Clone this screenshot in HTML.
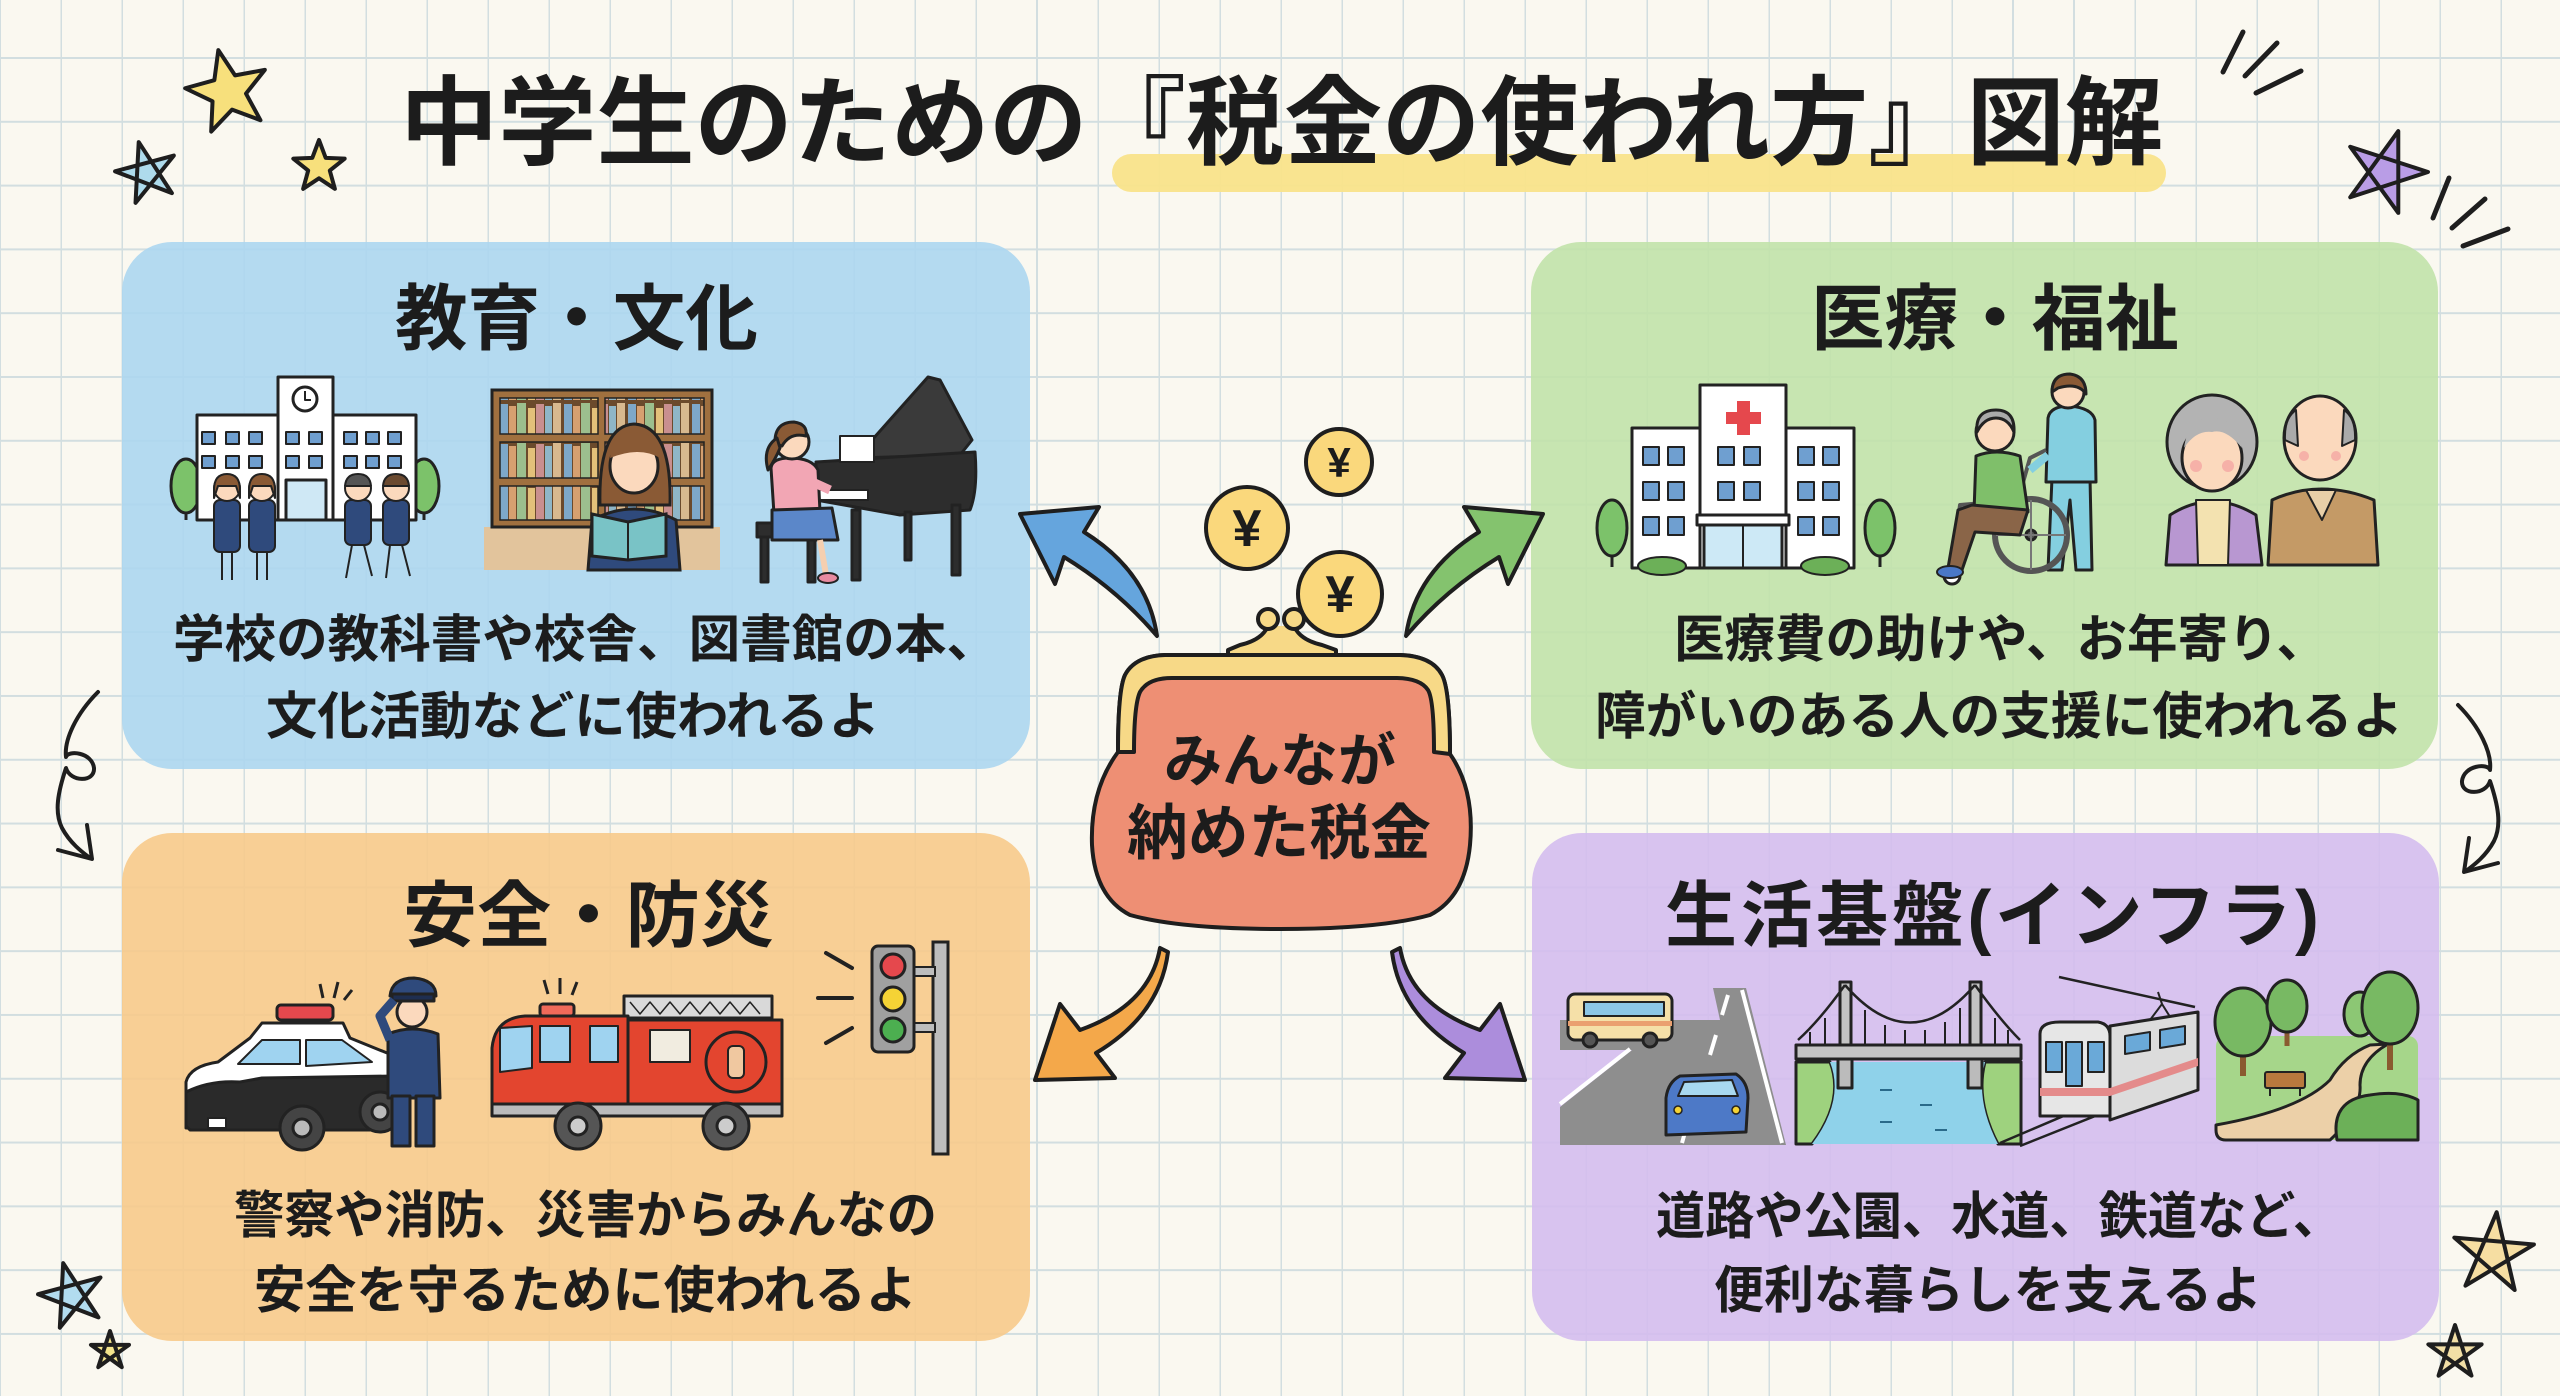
<!DOCTYPE html>
<html lang="ja"><head><meta charset="utf-8">
<style>
html,body{margin:0;padding:0;}
body{width:2560px;height:1396px;overflow:hidden;background-color:#faf8f0;
background-image:linear-gradient(to right,#d2dee0 0,#d2dee0 2px,transparent 2px),linear-gradient(to bottom,#d2dee0 0,#d2dee0 2px,transparent 2px);
background-size:61px 63.8px;background-position:-1px 57px;}
svg{position:absolute;left:0;top:0;}
text{font-family:"Liberation Sans","Noto Sans CJK JP",sans-serif;font-weight:700;fill:#1c1c1c;}
</style></head><body>
<svg width="2560" height="1396" viewBox="0 0 2560 1396" xmlns="http://www.w3.org/2000/svg">
<defs>
<pattern id="books" patternUnits="userSpaceOnUse" x="498" y="0" width="64" height="40">
<rect x="0" y="0" width="64" height="40" fill="#6b4a2c"/>
<rect x="2" y="4" width="8" height="36" fill="#7ea8c9"/>
<rect x="11" y="6" width="7" height="34" fill="#d6a070"/>
<rect x="19" y="3" width="9" height="37" fill="#9cbf8e"/>
<rect x="30" y="8" width="7" height="32" fill="#e3c07a"/>
<rect x="38" y="4" width="8" height="36" fill="#c98f8f"/>
<rect x="47" y="6" width="7" height="34" fill="#8fb6c7"/>
<rect x="55" y="3" width="8" height="37" fill="#d8b98f"/>
</pattern>
</defs>

<!-- boxes -->
<rect x="122" y="242" width="908" height="527" rx="50" fill="rgba(172,214,239,0.9)"/>
<rect x="1531" y="242" width="907" height="527" rx="50" fill="rgba(193,226,170,0.9)"/>
<rect x="122" y="833" width="908" height="508" rx="50" fill="rgba(247,202,139,0.9)"/>
<rect x="1532" y="833" width="907" height="508" rx="50" fill="rgba(212,189,238,0.9)"/>

<!-- title -->
<rect x="1112" y="154" width="1054" height="38" rx="19" fill="#f9e38a" opacity="0.95"/>
<text x="400" y="157" font-size="97" textLength="1763" lengthAdjust="spacingAndGlyphs">中学生のための『税金の使われ方』図解</text>

<!-- headings -->
<text x="395" y="344" font-size="72" textLength="363" lengthAdjust="spacingAndGlyphs">教育・文化</text>
<text x="1811" y="344" font-size="72" textLength="368" lengthAdjust="spacingAndGlyphs">医療・福祉</text>
<text x="403" y="941" font-size="72" textLength="371" lengthAdjust="spacingAndGlyphs">安全・防災</text>
<text x="1665" y="941" font-size="72" textLength="654" lengthAdjust="spacing">生活基盤(インフラ)</text>

<!-- descriptions -->
<text x="173" y="657" font-size="51" textLength="825" lengthAdjust="spacingAndGlyphs">学校の教科書や校舎、図書館の本、</text>
<text x="266" y="734" font-size="51" textLength="614" lengthAdjust="spacingAndGlyphs">文化活動などに使われるよ</text>
<text x="1674" y="657" font-size="51" textLength="653" lengthAdjust="spacingAndGlyphs">医療費の助けや、お年寄り、</text>
<text x="1595" y="734" font-size="51" textLength="808" lengthAdjust="spacingAndGlyphs">障がいのある人の支援に使われるよ</text>
<text x="234" y="1233" font-size="51" textLength="703" lengthAdjust="spacingAndGlyphs">警察や消防、災害からみんなの</text>
<text x="254" y="1308" font-size="51" textLength="663" lengthAdjust="spacingAndGlyphs">安全を守るために使われるよ</text>
<text x="1656" y="1234" font-size="51" textLength="686" lengthAdjust="spacingAndGlyphs">道路や公園、水道、鉄道など、</text>
<text x="1714" y="1308" font-size="51" textLength="548" lengthAdjust="spacingAndGlyphs">便利な暮らしを支えるよ</text>

<!-- ===== BLUE: school ===== -->
<g stroke="#222" stroke-width="3" stroke-linejoin="round">
<line x1="186" y1="495" x2="186" y2="520"/>
<ellipse cx="186" cy="486" rx="15" ry="27" fill="#7cc26a"/>
<line x1="424" y1="495" x2="424" y2="520"/>
<ellipse cx="424" cy="486" rx="15" ry="27" fill="#7cc26a"/>
<rect x="197" y="415" width="219" height="105" fill="#fff"/>
<rect x="278" y="377" width="55" height="143" fill="#fff"/>
<circle cx="305" cy="399" r="12" fill="#fff"/>
<path d="M305 391 V400 H311" fill="none" stroke-width="2"/>
<rect x="286" y="480" width="40" height="40" fill="#cfe8f5"/>
<g fill="#6f9fd0" stroke-width="2">
<rect x="202" y="432" width="13" height="12"/><rect x="226" y="432" width="13" height="12"/><rect x="249" y="432" width="13" height="12"/>
<rect x="286" y="432" width="13" height="12"/><rect x="309" y="432" width="13" height="12"/>
<rect x="344" y="432" width="13" height="12"/><rect x="366" y="432" width="13" height="12"/><rect x="388" y="432" width="13" height="12"/>
<rect x="202" y="456" width="13" height="12"/><rect x="226" y="456" width="13" height="12"/><rect x="249" y="456" width="13" height="12"/>
<rect x="286" y="456" width="13" height="12"/><rect x="309" y="456" width="13" height="12"/>
<rect x="344" y="456" width="13" height="12"/><rect x="366" y="456" width="13" height="12"/><rect x="388" y="456" width="13" height="12"/>
</g>
<!-- kids -->
<g stroke-width="2">
<rect x="214" y="500" width="26" height="52" rx="6" fill="#2f4a7c"/><circle cx="227" cy="488" r="13" fill="#fbd9bd"/><path d="M214 490 Q214 474 227 474 Q240 474 240 490 L240 498 L236 486 L218 486 L214 498 Z" fill="#8a5a35"/>
<line x1="222" y1="552" x2="222" y2="580"/><line x1="232" y1="552" x2="232" y2="580"/>
<rect x="249" y="500" width="26" height="52" rx="6" fill="#2f4a7c"/><circle cx="262" cy="488" r="13" fill="#fbd9bd"/><path d="M249 490 Q249 474 262 474 Q275 474 275 490 L275 498 L271 486 L253 486 L249 498 Z" fill="#8a5a35"/>
<line x1="257" y1="552" x2="257" y2="580"/><line x1="267" y1="552" x2="267" y2="580"/>
<rect x="345" y="500" width="26" height="45" rx="6" fill="#2f4a7c"/><circle cx="358" cy="488" r="13" fill="#fbd9bd"/><path d="M345 486 Q346 474 358 474 Q370 474 371 486 Z" fill="#555"/>
<line x1="352" y1="545" x2="346" y2="578"/><line x1="364" y1="545" x2="372" y2="576"/>
<rect x="383" y="500" width="26" height="45" rx="6" fill="#2f4a7c"/><circle cx="396" cy="488" r="13" fill="#fbd9bd"/><path d="M383 486 Q384 474 396 474 Q408 474 409 486 Z" fill="#6b4a30"/>
<line x1="390" y1="545" x2="386" y2="578"/><line x1="402" y1="545" x2="410" y2="576"/>
</g>
</g>

<!-- bookshelf -->
<rect x="484" y="527" width="236" height="43" fill="#e2c49c"/>
<g stroke="#222" stroke-width="3">
<rect x="492" y="390" width="220" height="137" fill="#a0703f"/>
<rect x="500" y="398" width="98" height="36" fill="url(#books)" stroke-width="1.5"/>
<rect x="605" y="398" width="99" height="36" fill="url(#books)" stroke-width="1.5"/>
<rect x="500" y="442" width="98" height="36" fill="url(#books)" stroke-width="1.5"/>
<rect x="605" y="442" width="99" height="36" fill="url(#books)" stroke-width="1.5"/>
<rect x="500" y="486" width="98" height="34" fill="url(#books)" stroke-width="1.5"/>
<rect x="605" y="486" width="99" height="34" fill="url(#books)" stroke-width="1.5"/>
<path d="M588 570 L592 520 Q634 498 676 520 L680 570 Z" fill="#2f4a7c"/>
<path d="M600 505 Q598 426 634 424 Q672 426 670 505 Z" fill="#8a5a35"/>
<ellipse cx="634" cy="466" rx="24" ry="27" fill="#fbd9bd"/>
<path d="M610 458 Q612 432 634 432 Q658 432 660 458 Q640 446 610 458 Z" fill="#8a5a35" stroke="none"/>
<path d="M592 514 L628 522 L666 514 L666 556 L628 560 L592 556 Z" fill="#79c3c6"/>
<line x1="628" y1="522" x2="628" y2="560" stroke-width="2"/>
</g>

<!-- piano -->
<g stroke="#222" stroke-width="3" stroke-linejoin="round">
<path d="M856 458 L928 377 L940 380 L972 440 L960 455 Z" fill="#3a3a3a"/>
<path d="M816 462 L975 452 Q978 490 970 510 L900 515 L816 500 Z" fill="#2d2d2d"/>
<rect x="840" y="436" width="34" height="26" fill="#fff" stroke-width="2"/>
<rect x="816" y="490" width="52" height="10" fill="#fff" stroke-width="2"/>
<rect x="852" y="510" width="8" height="70" fill="#2d2d2d"/>
<rect x="952" y="505" width="8" height="70" fill="#2d2d2d"/>
<rect x="905" y="512" width="6" height="48" fill="#2d2d2d"/>
<rect x="757" y="523" width="62" height="14" fill="#2d2d2d"/>
<rect x="761" y="537" width="7" height="45" fill="#2d2d2d"/>
<rect x="808" y="537" width="7" height="45" fill="#2d2d2d"/>
<path d="M771 468 Q772 458 790 458 Q812 458 818 470 L820 512 L774 514 Z" fill="#f2a6b4"/>
<path d="M772 510 L832 508 L838 540 L772 540 Z" fill="#5b87c9"/>
<line x1="820" y1="540" x2="826" y2="575" stroke="#f5cfb0" stroke-width="6"/>
<ellipse cx="828" cy="578" rx="10" ry="5" fill="#e88aa0" stroke-width="2"/>
<circle cx="792" cy="442" r="17" fill="#fbd9bd"/>
<path d="M775 444 Q774 422 794 422 Q808 424 806 436 Q790 432 782 446 Z" fill="#8a5a35"/>
<path d="M777 438 Q762 448 768 470 Q776 458 780 448 Z" fill="#8a5a35"/>
<line x1="808" y1="480" x2="830" y2="490" stroke="#f2a6b4" stroke-width="9"/>
</g>

<!-- ===== GREEN: hospital ===== -->
<g stroke="#222" stroke-width="3" stroke-linejoin="round">
<line x1="1612" y1="535" x2="1612" y2="567"/>
<ellipse cx="1612" cy="528" rx="15" ry="28" fill="#7cc26a"/>
<line x1="1880" y1="535" x2="1880" y2="567"/>
<ellipse cx="1880" cy="528" rx="15" ry="28" fill="#7cc26a"/>
<rect x="1632" y="428" width="222" height="140" fill="#fff"/>
<rect x="1700" y="385" width="86" height="183" fill="#fff"/>
<rect x="1704" y="524" width="78" height="44" fill="#cde9f6"/>
<rect x="1697" y="515" width="92" height="10" fill="#fff"/>
<line x1="1743" y1="525" x2="1743" y2="568" stroke-width="2"/>
<g fill="#6f9fd0" stroke-width="2">
<rect x="1643" y="447" width="16" height="18"/><rect x="1668" y="447" width="16" height="18"/>
<rect x="1718" y="447" width="16" height="18"/><rect x="1744" y="447" width="16" height="18"/>
<rect x="1798" y="447" width="16" height="18"/><rect x="1823" y="447" width="16" height="18"/>
<rect x="1643" y="482" width="16" height="18"/><rect x="1668" y="482" width="16" height="18"/>
<rect x="1718" y="482" width="16" height="18"/><rect x="1744" y="482" width="16" height="18"/>
<rect x="1798" y="482" width="16" height="18"/><rect x="1823" y="482" width="16" height="18"/>
<rect x="1643" y="517" width="16" height="18"/><rect x="1668" y="517" width="16" height="18"/>
<rect x="1798" y="517" width="16" height="18"/><rect x="1823" y="517" width="16" height="18"/>
</g>
<ellipse cx="1662" cy="566" rx="24" ry="9" fill="#6cb058" stroke-width="2"/>
<ellipse cx="1825" cy="566" rx="24" ry="9" fill="#6cb058" stroke-width="2"/>
</g>
<rect x="1737" y="401" width="13" height="34" fill="#e5484d"/>
<rect x="1726" y="412" width="35" height="12" fill="#e5484d"/>

<!-- wheelchair + nurse -->
<g stroke="#222" stroke-width="3" stroke-linejoin="round">
<path d="M2052 478 L2048 570 L2062 570 L2070 500 L2076 570 L2092 570 L2090 478 Z" fill="#84cfe0"/>
<path d="M2048 418 Q2050 406 2070 406 Q2092 408 2095 420 L2096 482 L2046 482 Z" fill="#84cfe0"/>
<circle cx="2068" cy="392" r="16" fill="#fbd9bd"/>
<path d="M2052 392 Q2052 374 2070 374 Q2086 376 2086 394 Q2078 382 2058 388 Z" fill="#8a5a35"/>
<circle cx="2031" cy="535" r="36" fill="none" stroke="#555" stroke-width="6"/>
<circle cx="2031" cy="535" r="5" fill="#555"/>
<line x1="2031" y1="500" x2="2031" y2="570" stroke="#777" stroke-width="2"/>
<line x1="1996" y1="535" x2="2066" y2="535" stroke="#777" stroke-width="2"/>
<circle cx="1952" cy="576" r="8" fill="#fff"/>
<path d="M2046 450 L2030 458 L2018 500 L1960 505 L1952 570" fill="none" stroke="#555" stroke-width="4"/>
<path d="M1976 456 Q1996 448 2020 456 L2028 512 L1974 512 Z" fill="#7fbf6a"/>
<path d="M1972 505 L2028 510 L2020 535 L1975 532 L1962 570 L1948 568 L1958 510 Z" fill="#8a6548"/>
<ellipse cx="1950" cy="572" rx="13" ry="6" fill="#4a78c8" stroke-width="2"/>
<circle cx="1995" cy="432" r="19" fill="#fbd9bd"/>
<path d="M1977 432 Q1975 410 1996 410 Q2015 410 2014 432 Q2008 418 1996 418 Q1984 418 1977 432 Z" fill="#aaa"/>
<line x1="2030" y1="470" x2="2048" y2="455" stroke="#84cfe0" stroke-width="8"/>
</g>

<!-- couple -->
<g stroke="#222" stroke-width="3" stroke-linejoin="round">
<path d="M2166 565 L2170 515 Q2212 488 2256 515 L2262 565 Z" fill="#b897d1"/>
<path d="M2196 500 L2230 500 L2228 565 L2198 565 Z" fill="#f3e2b0" stroke-width="2"/>
<ellipse cx="2212" cy="442" rx="45" ry="47" fill="#b3b3b3"/>
<ellipse cx="2212" cy="458" rx="30" ry="33" fill="#fbd9bd"/>
<path d="M2184 448 Q2188 418 2212 418 Q2238 418 2242 448 Q2226 428 2212 432 Q2196 430 2184 448 Z" fill="#b3b3b3" stroke="none"/>
<circle cx="2196" cy="466" r="6" fill="#f6b1a8" stroke="none"/>
<circle cx="2228" cy="466" r="6" fill="#f6b1a8" stroke="none"/>
<path d="M2268 565 L2272 500 Q2320 478 2374 500 L2378 565 Z" fill="#c49a66"/>
<path d="M2306 490 L2322 520 L2336 490 Z" fill="#e8cfa8" stroke-width="2"/>
<ellipse cx="2320" cy="438" rx="36" ry="42" fill="#fbd9bd"/>
<path d="M2285 440 Q2284 418 2296 410 L2298 446 Z M2355 440 Q2356 418 2344 410 L2342 446 Z" fill="#aaa" stroke-width="2"/>
<circle cx="2304" cy="456" r="5" fill="#f6b1a8" stroke="none"/>
<circle cx="2336" cy="456" r="5" fill="#f6b1a8" stroke="none"/>
</g>

<!-- ===== ORANGE: police ===== -->
<g stroke="#222" stroke-width="3" stroke-linejoin="round">
<line x1="320" y1="984" x2="323" y2="998"/><line x1="338" y1="982" x2="334" y2="998"/><line x1="352" y1="990" x2="344" y2="1000"/>
<path d="M186 1128 L186 1082 Q190 1066 218 1062 L250 1038 L262 1023 L343 1023 L350 1038 L392 1055 L394 1110 Q392 1126 380 1128 Z" fill="#fff"/>
<path d="M186 1092 Q210 1080 240 1082 L262 1078 L394 1076 L394 1112 Q390 1128 378 1130 L190 1130 L186 1126 Z" fill="#2a2a2a"/>
<path d="M238 1064 L262 1040 L300 1040 L300 1064 Z" fill="#9fd3f0" stroke-width="2"/>
<path d="M306 1040 L342 1040 L372 1062 L306 1066 Z" fill="#9fd3f0" stroke-width="2"/>
<rect x="277" y="1005" width="56" height="15" rx="4" fill="#e5484d"/>
<circle cx="302" cy="1128" r="22" fill="#444"/><circle cx="302" cy="1128" r="9" fill="#bbb"/>
<circle cx="380" cy="1112" r="20" fill="#444"/><circle cx="380" cy="1112" r="8" fill="#bbb"/>
<rect x="208" y="1118" width="18" height="10" fill="#fff" stroke-width="2"/>
<!-- officer -->
<path d="M388 1034 Q412 1024 438 1034 L440 1098 L388 1098 Z" fill="#2f4a7c"/>
<rect x="392" y="1096" width="18" height="50" fill="#2f4a7c"/>
<rect x="416" y="1096" width="18" height="50" fill="#2f4a7c"/>
<circle cx="412" cy="1012" r="15" fill="#fbd9bd"/>
<path d="M390 996 Q392 978 414 978 Q436 980 436 996 Z" fill="#2f4a7c"/>
<rect x="392" y="994" width="42" height="7" fill="#1e2e50"/>
<path d="M390 1040 L380 1016 L394 1000" fill="none" stroke="#2f4a7c" stroke-width="9"/>
</g>

<!-- fire truck -->
<g stroke="#222" stroke-width="3" stroke-linejoin="round">
<line x1="544" y1="980" x2="548" y2="994"/><line x1="560" y1="978" x2="560" y2="994"/><line x1="577" y1="982" x2="572" y2="995"/>
<rect x="624" y="996" width="148" height="22" fill="#d9d9d9"/>
<path d="M630 1002 L640 1014 L650 1002 L660 1014 L670 1002 L680 1014 L690 1002 L700 1014 L710 1002 L720 1014 L730 1002 L740 1014 L750 1002 L760 1014" fill="none" stroke-width="1.5"/>
<rect x="626" y="1020" width="156" height="92" fill="#e3452f"/>
<path d="M492 1114 L492 1048 Q495 1018 525 1016 L628 1016 L628 1114 Z" fill="#e3452f"/>
<rect x="540" y="1004" width="34" height="12" rx="3" fill="#f06a5a"/>
<path d="M500 1028 L532 1026 L532 1068 L500 1072 Z" fill="#9fd3f0" stroke-width="2"/>
<rect x="540" y="1026" width="30" height="36" fill="#9fd3f0" stroke-width="2"/>
<rect x="590" y="1026" width="28" height="36" fill="#9fd3f0" stroke-width="2"/>
<rect x="650" y="1030" width="40" height="32" fill="#f1ece0" stroke-width="2"/>
<circle cx="736" cy="1062" r="30" fill="none"/>
<rect x="728" y="1046" width="16" height="32" rx="5" fill="#f0c8a0" stroke-width="2"/>
<rect x="492" y="1104" width="290" height="12" fill="#bbb"/>
<circle cx="578" cy="1126" r="23" fill="#555"/><circle cx="578" cy="1126" r="9" fill="#ccc"/>
<circle cx="726" cy="1126" r="23" fill="#555"/><circle cx="726" cy="1126" r="9" fill="#ccc"/>
</g>

<!-- traffic light -->
<g stroke="#222" stroke-width="4" stroke-linecap="round">
<line x1="826" y1="953" x2="852" y2="968"/>
<line x1="818" y1="998" x2="852" y2="998"/>
<line x1="826" y1="1043" x2="852" y2="1028"/>
</g>
<g stroke="#222" stroke-width="3">
<rect x="933" y="942" width="15" height="212" fill="#bdbdbd"/>
<rect x="910" y="967" width="25" height="9" fill="#bdbdbd" stroke-width="2"/>
<rect x="910" y="1023" width="25" height="9" fill="#bdbdbd" stroke-width="2"/>
<rect x="872" y="946" width="42" height="106" rx="6" fill="#a0a0a0"/>
<circle cx="893" cy="966" r="12" fill="#e5484d"/>
<circle cx="893" cy="999" r="12" fill="#f5d335"/>
<circle cx="893" cy="1030" r="12" fill="#4caf50"/>
</g>

<!-- ===== PURPLE: road ===== -->
<path d="M1560 1020 L1720 1020 L1713 988 L1746 988 L1786 1145 L1560 1145 L1560 1107 L1632 1050 L1560 1050 Z" fill="#8e8e8e"/>
<g stroke="#fff" stroke-width="4" fill="none">
<path d="M1560 1104 L1630 1049"/>
<path d="M1742 990 L1782 1143"/>
<path d="M1728 995 L1722 1015 M1716 1035 L1710 1055 M1703 1075 L1696 1098 M1689 1118 L1682 1143"/>
</g>
<g stroke="#222" stroke-width="3" stroke-linejoin="round">
<rect x="1568" y="994" width="104" height="46" rx="7" fill="#f5e0a8"/>
<rect x="1584" y="1002" width="80" height="14" fill="#8cc6e6" stroke-width="2"/>
<rect x="1568" y="1021" width="104" height="5" fill="#eaa070" stroke="none"/>
<circle cx="1590" cy="1040" r="7" fill="#555"/><circle cx="1650" cy="1040" r="7" fill="#555"/>
<path d="M1666 1135 L1666 1098 Q1668 1082 1680 1076 L1736 1074 Q1748 1082 1748 1098 L1746 1132 Z" fill="#4d79c7"/>
<path d="M1678 1096 L1684 1082 L1732 1080 L1738 1096 Z" fill="#a8d8f0" stroke-width="2"/>
<circle cx="1678" cy="1110" r="4" fill="#f5d335" stroke-width="1.5"/><circle cx="1736" cy="1110" r="4" fill="#f5d335" stroke-width="1.5"/>
</g>

<!-- bridge -->
<g stroke="#222" stroke-width="3" stroke-linejoin="round">
<path d="M1796 1062 L1830 1062 Q1845 1100 1812 1144 L1796 1144 Z" fill="#9ed27e"/>
<path d="M1985 1062 L2021 1062 L2021 1144 L1998 1144 Q1975 1100 1985 1062 Z" fill="#9ed27e"/>
<path d="M1830 1062 L1985 1062 Q1975 1100 1998 1144 L1812 1144 Q1845 1100 1830 1062 Z" fill="#8fd2ea" stroke="none"/>
<rect x="1838" y="1058" width="14" height="30" fill="#bbb"/>
<rect x="1968" y="1058" width="14" height="30" fill="#bbb"/>
<rect x="1796" y="1045" width="225" height="14" fill="#c4c4c4"/>
<rect x="1840" y="982" width="11" height="63" fill="#c4c4c4"/>
<rect x="1970" y="982" width="11" height="63" fill="#c4c4c4"/>
<path d="M1845 985 Q1910 1060 1975 985 M1845 985 Q1820 1020 1798 1040 M1975 985 Q2000 1020 2020 1040" fill="none" stroke-width="2.5"/>
<path d="M1865 1010 V1045 M1885 1025 V1045 M1905 1030 V1045 M1925 1030 V1045 M1945 1022 V1045 M1960 1008 V1045 M1825 1018 V1045 M1810 1032 V1045 M1995 1018 V1045 M2008 1030 V1045" stroke-width="2"/>
</g>
<g stroke="#2a6a8a" stroke-width="2"><line x1="1880" y1="1090" x2="1892" y2="1090"/><line x1="1920" y1="1105" x2="1932" y2="1105"/><line x1="1880" y1="1122" x2="1892" y2="1122"/><line x1="1935" y1="1130" x2="1947" y2="1130"/></g>

<!-- train -->
<g stroke="#222" stroke-width="3" stroke-linejoin="round">
<line x1="2059" y1="977" x2="2195" y2="1007" stroke-width="2.5"/>
<path d="M2150 1020 L2162 1004 L2158 992 M2162 1004 L2172 1020" fill="none" stroke-width="2"/>
<path d="M2000 1143 L2195 1060 M2020 1146 L2198 1075" stroke-width="2.5"/>
<path d="M2110 1026 L2198 1012 L2198 1090 L2110 1120 Z" fill="#dcdcdc"/>
<path d="M2040 1034 Q2040 1022 2060 1022 L2098 1022 Q2110 1024 2110 1036 L2110 1116 L2040 1116 Z" fill="#e6e6e6"/>
<rect x="2046" y="1042" width="16" height="30" fill="#6aa9d8" stroke-width="2"/>
<rect x="2066" y="1042" width="16" height="44" fill="#6aa9d8" stroke-width="2"/>
<rect x="2088" y="1042" width="16" height="30" fill="#6aa9d8" stroke-width="2"/>
<path d="M2040 1088 L2110 1088 L2110 1096 L2040 1096 Z" fill="#e48b8b" stroke="none"/>
<path d="M2110 1088 L2198 1058 L2198 1066 L2110 1096 Z" fill="#e48b8b" stroke="none"/>
<path d="M2125 1036 L2150 1032 L2150 1050 L2125 1054 Z M2160 1030 L2185 1026 L2185 1044 L2160 1048 Z" fill="#6aa9d8" stroke-width="2"/>
</g>

<!-- park -->
<g stroke="#222" stroke-width="3" stroke-linejoin="round">
<rect x="2216" y="1036" width="202" height="104" rx="10" fill="#a6d68a" stroke="none"/>
<path d="M2216 1125 Q2300 1110 2330 1080 Q2345 1055 2370 1045 L2388 1044 Q2360 1060 2360 1085 Q2362 1110 2330 1140 L2226 1140 Q2216 1140 2216 1130 Z" fill="#ecd0a8"/>
<path d="M2337 1140 Q2330 1100 2370 1095 Q2400 1090 2418 1100 L2418 1140 Z" fill="#6cb058"/>
<line x1="2243" y1="1040" x2="2243" y2="1076" stroke="#8a5a30" stroke-width="6"/>
<ellipse cx="2243" cy="1022" rx="28" ry="34" fill="#78b963"/>
<line x1="2287" y1="1015" x2="2287" y2="1046" stroke="#8a5a30" stroke-width="5"/>
<ellipse cx="2287" cy="1006" rx="20" ry="26" fill="#78b963"/>
<ellipse cx="2360" cy="1014" rx="16" ry="22" fill="#8cc774"/>
<line x1="2390" y1="1015" x2="2390" y2="1070" stroke="#8a5a30" stroke-width="6"/>
<ellipse cx="2390" cy="1008" rx="28" ry="36" fill="#78b963"/>
<rect x="2265" y="1072" width="40" height="16" rx="2" fill="#b8793e" stroke-width="2"/>
<line x1="2270" y1="1088" x2="2270" y2="1096" stroke-width="2"/><line x1="2300" y1="1088" x2="2300" y2="1096" stroke-width="2"/>
</g>

<!-- ===== centre: arrows ===== -->
<g stroke="#1e1e1e" stroke-width="4" stroke-linejoin="round">
<path d="M1157 636 Q1148 572 1084 532 L1099 507 L1020 514 L1055 584 L1064 557 Q1118 590 1157 636 Z" fill="#65a5dd"/>
<path transform="translate(2563,0) scale(-1,1)" d="M1157 636 Q1148 572 1084 532 L1099 507 L1020 514 L1055 584 L1064 557 Q1118 590 1157 636 Z" fill="#84c36e"/>
<path d="M1160 948 Q1150 1005 1080 1030 L1060 1004 L1035 1080 L1115 1078 L1096 1053 Q1160 1015 1168 952 Z" fill="#f4a84a"/>
<path transform="translate(2560,0) scale(-1,1)" d="M1160 948 Q1150 1005 1080 1030 L1060 1004 L1035 1080 L1115 1078 L1096 1053 Q1160 1015 1168 952 Z" fill="#ac8ddc"/>
</g>

<!-- coins -->
<g stroke="#1e1e1e" stroke-width="4">
<circle cx="1339" cy="462" r="33" fill="#fad87c"/>
<circle cx="1247" cy="528" r="41" fill="#fad87c"/>
<circle cx="1340" cy="594" r="42" fill="#fad87c"/>
</g>
<text x="1339" y="477" font-size="42" text-anchor="middle">¥</text>
<text x="1247" y="546" font-size="52" text-anchor="middle">¥</text>
<text x="1340" y="612" font-size="52" text-anchor="middle">¥</text>

<!-- purse -->
<g stroke="#1e1e1e" stroke-width="4" stroke-linejoin="round">
<path d="M1268 626 Q1262 640 1240 645 L1228 650 L1228 658 L1336 658 L1336 650 L1322 645 Q1300 640 1294 626" fill="#f7d987"/>
<circle cx="1268" cy="619" r="10" fill="#f7d987"/>
<circle cx="1294" cy="619" r="10" fill="#f7d987"/>
<path d="M1118 752 Q1118 690 1125 675 Q1135 656 1165 655 L1400 655 Q1432 656 1442 675 Q1450 690 1450 754 Q1475 790 1470 845 Q1465 897 1430 915 Q1380 929 1280 929 Q1180 929 1130 915 Q1095 897 1092 845 Q1090 790 1118 752 Z" fill="#ee8f74"/>
<path d="M1118 752 Q1118 690 1125 675 Q1135 656 1165 655 L1400 655 Q1432 656 1442 675 Q1450 690 1450 754 L1434 752 Q1434 700 1428 690 Q1420 678 1395 678 L1172 678 Q1148 678 1140 692 Q1134 705 1134 752 Z" fill="#f7d987"/>
</g>
<text x="1164" y="781" font-size="58" textLength="232" lengthAdjust="spacingAndGlyphs">みんなが</text>
<text x="1127" y="854" font-size="60" textLength="304" lengthAdjust="spacingAndGlyphs">納めた税金</text>

<!-- curly arrows -->
<g fill="none" stroke="#1e1e1e" stroke-width="4" stroke-linecap="round" stroke-linejoin="round">
<path d="M98 692 C76 714 64 740 66 757 C68 750 92 752 94 768 C95 783 70 782 66 768 C58 792 54 812 62 828 C70 843 82 852 90 858"/>
<path d="M58 850 L92 859 L87 825"/>
<g transform="translate(2556,13) scale(-1,1)">
<path d="M98 692 C76 714 64 740 66 757 C68 750 92 752 94 768 C95 783 70 782 66 768 C58 792 54 812 62 828 C70 843 82 852 90 858"/>
<path d="M58 850 L92 859 L87 825"/>
</g>
</g>

<!-- dashes top-right -->
<g stroke="#1e1e1e" stroke-width="5" stroke-linecap="round">
<line x1="2223" y1="72" x2="2243" y2="32"/>
<line x1="2245" y1="76" x2="2277" y2="43"/>
<line x1="2256" y1="93" x2="2301" y2="71"/>
<line x1="2433" y1="218" x2="2449" y2="178"/>
<line x1="2452" y1="228" x2="2485" y2="199"/>
<line x1="2463" y1="246" x2="2508" y2="229"/>
</g>

<!-- stars -->
<g stroke="#1e1e1e" stroke-width="4" stroke-linejoin="round">
<polygon points="0,-1 0.247,-0.34 0.951,-0.309 0.399,0.13 0.588,0.809 0,0.42 -0.588,0.809 -0.399,0.13 -0.951,-0.309 -0.247,-0.34" transform="translate(228,92) rotate(-13) scale(43)" fill="#f7e07c" vector-effect="non-scaling-stroke"/>
<polygon points="0,-1 0.247,-0.34 0.951,-0.309 0.399,0.13 0.588,0.809 0,0.42 -0.588,0.809 -0.399,0.13 -0.951,-0.309 -0.247,-0.34" transform="translate(319,167) scale(27)" fill="#f7e07c" vector-effect="non-scaling-stroke"/>
<polygon points="0,-1 0.588,0.809 -0.951,-0.309 0.951,-0.309 -0.588,0.809" transform="translate(147,173) rotate(-15) scale(32)" fill="#aedbec" vector-effect="non-scaling-stroke"/>
<polygon points="0,-1 0.588,0.809 -0.951,-0.309 0.951,-0.309 -0.588,0.809" transform="translate(2385,172) rotate(18) scale(43)" fill="#b99de6" vector-effect="non-scaling-stroke"/>
<polygon points="0,-1 0.588,0.809 -0.951,-0.309 0.951,-0.309 -0.588,0.809" transform="translate(72,1296) rotate(-15) scale(34)" fill="#b2dcef" vector-effect="non-scaling-stroke"/>
<polygon points="0,-1 0.588,0.809 -0.951,-0.309 0.951,-0.309 -0.588,0.809" transform="translate(110,1351) scale(20)" fill="#f3e48c" vector-effect="non-scaling-stroke"/>
<polygon points="0,-1 0.588,0.809 -0.951,-0.309 0.951,-0.309 -0.588,0.809" transform="translate(2493,1254) rotate(5) scale(42)" fill="#f6dea2" vector-effect="non-scaling-stroke"/>
<polygon points="0,-1 0.588,0.809 -0.951,-0.309 0.951,-0.309 -0.588,0.809" transform="translate(2455,1353) scale(28)" fill="#f2dfa6" vector-effect="non-scaling-stroke"/>
</g>
</svg>
</body></html>
